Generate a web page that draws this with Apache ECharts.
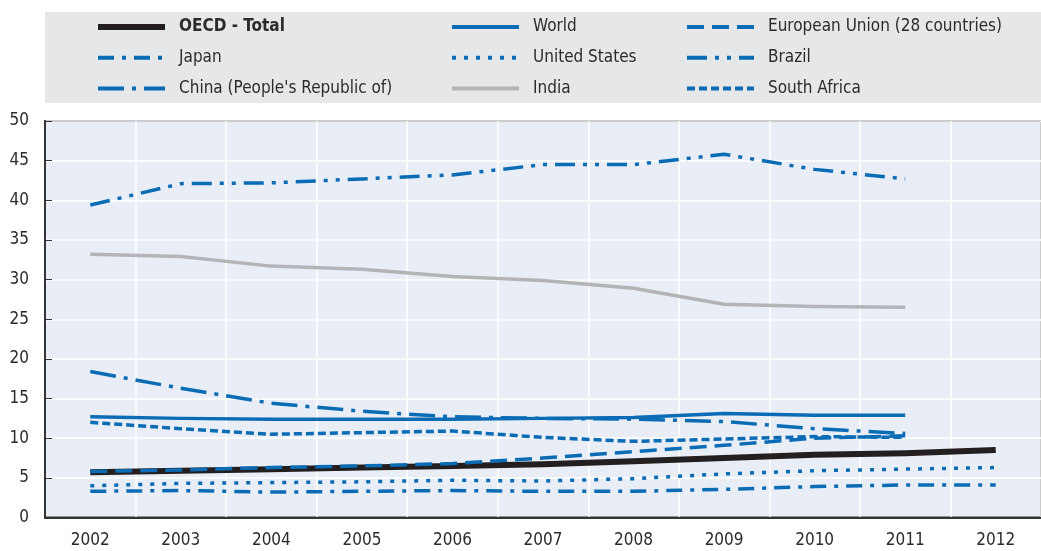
<!DOCTYPE html>
<html>
<head>
<meta charset="utf-8">
<script src="https://cdn.jsdelivr.net/npm/echarts@6/dist/echarts.min.js"></script>
<style>
  html, body { margin: 0; padding: 0; background: #fff; }
  #chart { width: 1041px; height: 551px; }
</style>
</head>
<body>
<div id="chart"></div>
<script>
// Renewables share, %
const years = ['2002', '2003', '2004', '2005', '2006', '2007', '2008', '2009', '2010', '2011', '2012']

const oecdTotal = [5.7, 5.9, 6.1, 6.3, 6.5, 6.7, 7.1, 7.5, 7.9, 8.1, 8.5]
const world = [12.7, 12.5, 12.4, 12.4, 12.4, 12.5, 12.6, 13.1, 12.9, 12.9, null]
const eu28 = [5.8, 6.0, 6.3, 6.5, 6.8, 7.5, 8.3, 9.1, 10.0, 10.3, null]
const japan = [3.3, 3.4, 3.2, 3.3, 3.4, 3.3, 3.3, 3.55, 3.9, 4.1, 4.1]
const unitedStates = [4.0, 4.3, 4.4, 4.5, 4.7, 4.6, 4.9, 5.5, 5.9, 6.1, 6.3]
const brazil = [39.4, 42.1, 42.2, 42.7, 43.2, 44.5, 44.5, 45.8, 43.9, 42.7, null]
const china = [18.4, 16.3, 14.4, 13.4, 12.7, 12.5, 12.4, 12.1, 11.2, 10.6, null]
const india = [33.2, 32.9, 31.7, 31.3, 30.4, 29.9, 28.9, 26.9, 26.6, 26.5, null]
const southAfrica = [12.0, 11.2, 10.5, 10.7, 10.9, 10.1, 9.6, 9.9, 10.2, 10.1, null]

const font = '"DejaVu Sans Condensed", "Liberation Sans", sans-serif'
const blue = '#0b6cb6'
const colors = {
    text: '#2b2b2b',
    axis: '#333333',
    plotBg: '#e9edf5',
    legendBg: '#e6e7e9',
    grid: '#ffffff',
    black: '#231f20',
    grey: '#b4b4b7',
}

const line = (name, data, color, width, dash) => ({
    name,
    type: 'line',
    data,
    symbol: 'none',
    silent: true,
    lineStyle: { color, width, type: dash, cap: 'butt', join: 'round' },
    itemStyle: { color },
})

const series = [
    line('OECD - Total', oecdTotal, colors.black, 6, 'solid'),
    line('World', world, blue, 3.5, 'solid'),
    line('European Union (28 countries)', eu28, blue, 3.5, [17, 8]),
    line('Japan', japan, blue, 3.5, [16, 8, 4, 8]),
    line('United States', unitedStates, blue, 3.5, [4, 8]),
    line('Brazil', brazil, blue, 3.5, [20, 8, 4, 8, 4, 8]),
    line('China (People\'s Republic of)', china, blue, 3.5, [26, 8, 4, 8]),
    line('India', india, colors.grey, 3.5, 'solid'),
    line('South Africa', southAfrica, blue, 3.5, [8, 4]),
]

const legendCol = (left, names) => ({
    orient: 'vertical',
    left,
    top: 17,
    padding: 0,
    itemWidth: 67,
    itemHeight: 14,
    itemGap: 10.8,
    selectedMode: false,
    itemStyle: { opacity: 0 },
    data: names.map((n) => n === 'OECD - Total'
        ? { name: n, textStyle: { fontWeight: 'bold' }, lineStyle: { width: 6 } }
        : { name: n, lineStyle: { width: 4 } }),
    textStyle: {
        fontFamily: font,
        fontSize: 17,
        lineHeight: 20,
        color: colors.text,
        padding: [0, 0, 0, 9],
    },
})

const chart = echarts.init(document.getElementById('chart'), null, { renderer: 'canvas' })

chart.setOption({
    animation: false,
    backgroundColor: '#fff',
    graphic: [{
        type: 'rect',
        shape: { x: 45, y: 12, width: 996, height: 91 },
        style: { fill: colors.legendBg },
        z: -1,
    }],
    legend: [
        legendCol(95, ['OECD - Total', 'Japan', 'China (People\'s Republic of)']),
        legendCol(450, ['World', 'United States', 'India']),
        legendCol(685, ['European Union (28 countries)', 'Brazil', 'South Africa']),
    ],
    grid: {
        left: 45,
        right: -13,
        top: 121,
        bottom: 33.5,
        show: true,
        backgroundColor: colors.plotBg,
        borderColor: colors.axis,
        borderWidth: 2,
    },
    xAxis: {
        type: 'category',
        data: years,
        boundaryGap: true,
        axisLine: { lineStyle: { color: colors.axis, width: 2 } },
        axisTick: { inside: true, length: 6, lineStyle: { color: colors.axis, width: 1 } },
        axisLabel: { fontFamily: font, fontSize: 17, color: colors.text, margin: 15 },
        splitLine: { show: true, lineStyle: { color: colors.grid, width: 1.5 } },
    },
    yAxis: {
        type: 'value',
        min: 0,
        max: 50,
        interval: 5,
        axisLine: { show: true, lineStyle: { color: colors.axis, width: 2 } },
        axisTick: { show: true, inside: true, length: 7, lineStyle: { color: colors.axis, width: 1 } },
        axisLabel: { fontFamily: font, fontSize: 17, color: colors.text, margin: 16 },
        splitLine: { show: true, lineStyle: { color: colors.grid, width: 1.5 } },
    },
    series,
})
</script>
</body>
</html>
